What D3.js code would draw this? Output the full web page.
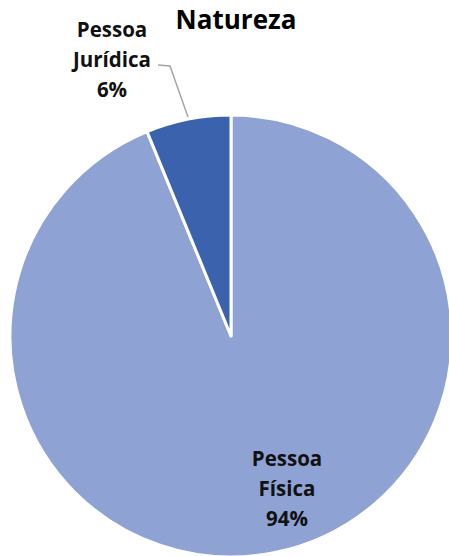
<!DOCTYPE html>
<html><head><meta charset="utf-8">
<script src="https://cdn.jsdelivr.net/npm/d3@7"></script>
<style>body{margin:0;background:#fff;overflow:hidden}</style>
</head><body>
<svg id="c" width="449" height="556"></svg>
<script>
const categories = ["Pessoa Física", "Pessoa Jurídica"];
const values = [93.8, 6.2];
const labelLines = [["Pessoa", "Física", "94%"], ["Pessoa", "Jurídica", "6%"]];
const colors = ["#8EA2D4", "#3B63AD"];
const title = "Natureza";

const svg = d3.select("#c");
const cx = 231, cy = 336, r = 221;
const pie = d3.pie().sort(null).startAngle(0).endAngle(2 * Math.PI);
const arcs = pie(values);
const arc = d3.arc().innerRadius(0).outerRadius(r);
const g = svg.append("g").attr("transform", `translate(${cx},${cy})`);
g.selectAll("path").data(arcs).join("path")
  .attr("d", arc)
  .attr("fill", (d, i) => colors[i])
  .attr("stroke", "#fff").attr("stroke-width", 3).attr("stroke-linejoin", "round");

svg.append("text").attr("x", 236).attr("y", 29).attr("text-anchor", "middle")
  .attr("font-family", "Open Sans, sans-serif").attr("font-weight", "bold")
  .attr("font-size", 26).attr("fill", "#000").text(title);

const labelPos = [{x: 112, y: 37}, {x: 287, y: 466}];
const fs = 20.5;
[labelLines[1], labelLines[0]].forEach((lines, i) => {
  const t = svg.append("text").attr("text-anchor", "middle")
    .attr("font-family", "Open Sans, sans-serif").attr("font-weight", "bold")
    .attr("font-size", fs).attr("fill", "#111");
  lines.forEach((l, j) => t.append("tspan").attr("x", labelPos[i].x).attr("y", labelPos[i].y + j * 30).text(l));
});

svg.append("polyline")
  .attr("points", [[158, 65], [170, 66], [188, 117]].map(p => p.join(",")).join(" "))
  .attr("fill", "none").attr("stroke", "#A6A6A6").attr("stroke-width", 1.5);
</script>
</body></html>
